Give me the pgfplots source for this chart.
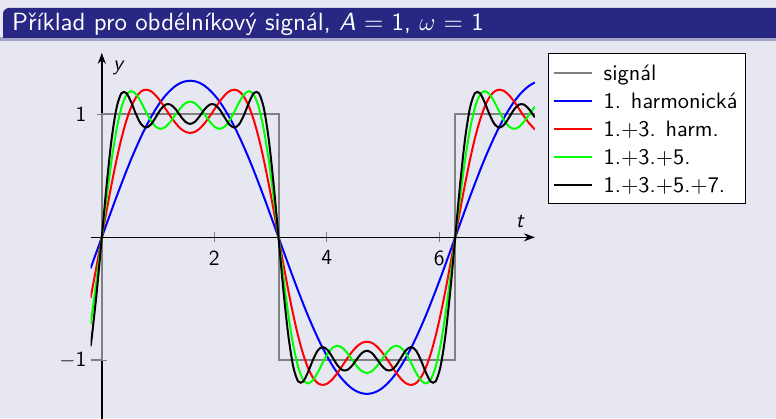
\documentclass[border=0pt]{standalone}
\usepackage{fontspec}
\setsansfont{lmsans10-regular.otf}[ItalicFont=lmsans10-oblique.otf, BoldFont=lmsans10-bold.otf]
\usepackage{pgfplots}
\usepackage{pgfplotstable}
\pgfplotsset{compat=1.18}
\usetikzlibrary{arrows.meta}
\renewcommand*\familydefault{\sfdefault}

\definecolor{canvasbg}{RGB}{231,231,242}
\definecolor{headblue}{RGB}{40,40,132}
\definecolor{sigGray}{RGB}{128,128,128}

\newcommand{\bodyfont}{\fontsize{21.5}{26}\selectfont}
\newcommand{\legendfont}{\fontsize{22.3}{26}\selectfont}

% Partial Fourier sums of the square wave (A = 1, omega = 1)
% columns: t, 1st harmonic, 1+3, 1+3+5, 1+3+5+7
\pgfplotstableread{
t f1 f3 f5 f7
-0.2000 -0.253 -0.493 -0.707 -0.886
-0.1745 -0.221 -0.433 -0.628 -0.799
-0.0873 -0.111 -0.221 -0.328 -0.433
0.0000 0 0 0 0
0.0873 0.111 0.221 0.328 0.433
0.1745 0.221 0.433 0.628 0.799
0.2618 0.330 0.630 0.876 1.051
0.3491 0.435 0.803 1.054 1.171
0.4363 0.538 0.948 1.157 1.173
0.5236 0.637 1.061 1.188 1.097
0.6109 0.730 1.140 1.162 0.998
0.6981 0.818 1.186 1.099 0.920
0.7854 0.900 1.200 1.020 0.892
0.8727 0.975 1.188 0.948 0.917
0.9599 1.043 1.153 0.899 0.976
1.0472 1.103 1.103 0.882 1.040
1.1345 1.154 1.044 0.898 1.079
1.2217 1.196 0.984 0.940 1.079
1.3090 1.230 0.930 0.996 1.043
1.3963 1.254 0.886 1.050 0.988
1.4835 1.268 0.858 1.089 0.940
1.5708 1.273 0.849 1.103 0.922
1.6581 1.268 0.858 1.089 0.940
1.7453 1.254 0.886 1.050 0.988
1.8326 1.230 0.930 0.996 1.043
1.9199 1.196 0.984 0.940 1.079
2.0071 1.154 1.044 0.898 1.079
2.0944 1.103 1.103 0.882 1.040
2.1817 1.043 1.153 0.899 0.976
2.2689 0.975 1.188 0.948 0.917
2.3562 0.900 1.200 1.020 0.892
2.4435 0.818 1.186 1.099 0.920
2.5307 0.730 1.140 1.162 0.998
2.6180 0.637 1.061 1.188 1.097
2.7053 0.538 0.948 1.157 1.173
2.7925 0.435 0.803 1.054 1.171
2.8798 0.330 0.630 0.876 1.051
2.9671 0.221 0.433 0.628 0.799
3.0543 0.111 0.221 0.328 0.433
3.1416 0 0 0 0
3.2289 -0.111 -0.221 -0.328 -0.433
3.3161 -0.221 -0.433 -0.628 -0.799
3.4034 -0.330 -0.630 -0.876 -1.051
3.4907 -0.435 -0.803 -1.054 -1.171
3.5779 -0.538 -0.948 -1.157 -1.173
3.6652 -0.637 -1.061 -1.188 -1.097
3.7525 -0.730 -1.140 -1.162 -0.998
3.8397 -0.818 -1.186 -1.099 -0.920
3.9270 -0.900 -1.200 -1.020 -0.892
4.0143 -0.975 -1.188 -0.948 -0.917
4.1015 -1.043 -1.153 -0.899 -0.976
4.1888 -1.103 -1.103 -0.882 -1.040
4.2761 -1.154 -1.044 -0.898 -1.079
4.3633 -1.196 -0.984 -0.940 -1.079
4.4506 -1.230 -0.930 -0.996 -1.043
4.5379 -1.254 -0.886 -1.050 -0.988
4.6251 -1.268 -0.858 -1.089 -0.940
4.7124 -1.273 -0.849 -1.103 -0.922
4.7997 -1.268 -0.858 -1.089 -0.940
4.8869 -1.254 -0.886 -1.050 -0.988
4.9742 -1.230 -0.930 -0.996 -1.043
5.0615 -1.196 -0.984 -0.940 -1.079
5.1487 -1.154 -1.044 -0.898 -1.079
5.2360 -1.103 -1.103 -0.882 -1.040
5.3233 -1.043 -1.153 -0.899 -0.976
5.4105 -0.975 -1.188 -0.948 -0.917
5.4978 -0.900 -1.200 -1.020 -0.892
5.5851 -0.818 -1.186 -1.099 -0.920
5.6723 -0.730 -1.140 -1.162 -0.998
5.7596 -0.637 -1.061 -1.188 -1.097
5.8469 -0.538 -0.948 -1.157 -1.173
5.9341 -0.435 -0.803 -1.054 -1.171
6.0214 -0.330 -0.630 -0.876 -1.051
6.1087 -0.221 -0.433 -0.628 -0.799
6.1959 -0.111 -0.221 -0.328 -0.433
6.2832 0 0 0 0
6.3705 0.111 0.221 0.328 0.433
6.4577 0.221 0.433 0.628 0.799
6.5450 0.330 0.630 0.876 1.051
6.6323 0.435 0.803 1.054 1.171
6.7195 0.538 0.948 1.157 1.173
6.8068 0.637 1.061 1.188 1.097
6.8941 0.730 1.140 1.162 0.998
6.9813 0.818 1.186 1.099 0.920
7.0686 0.900 1.200 1.020 0.892
7.1558 0.975 1.188 0.948 0.917
7.2431 1.043 1.153 0.899 0.976
7.3304 1.103 1.103 0.882 1.040
7.4176 1.154 1.044 0.898 1.079
7.5049 1.196 0.984 0.940 1.079
7.5922 1.230 0.930 0.996 1.043
7.6794 1.254 0.886 1.050 0.988
7.7000 1.258 0.878 1.061 0.975
}\harmtable

\begin{document}
\begin{tikzpicture}
\useasboundingbox (0,0) rectangle (776pt,418pt);
\clip (0,0) rectangle (776pt,418pt);
% slide canvas
\fill[canvasbg] (0,0) rectangle (776pt,418pt);
% frame title bar
\fill[headblue!35!canvasbg] (0,377pt) rectangle (776pt,381pt);
\fill[headblue] (3pt,380pt) -- (3pt,404pt) arc[start angle=180,end angle=90,radius=6pt]
  -- (776pt,410pt) -- (776pt,380pt) -- cycle;
\node[anchor=base west, inner sep=0pt, text=white, font=\fontsize{24.9}{29}\selectfont]
  at (12pt,387pt) {Příklad pro obdélníkový signál, {\itshape A}~=~1, $\omega$~=~1};

\begin{axis}[
  x=56.25pt, y=123pt,
  at={(90.55pt,-3.8pt)}, anchor=south west,
  axis lines=middle,
  xmin=-0.2, xmax=7.7, ymin=-1.5, ymax=1.5,
  axis line style={line width=1.5pt, -{Stealth[length=11pt,width=8pt]}},
  xtick={2,4,6}, xticklabels={2,4,6},
  ytick={-1,1}, yticklabels={$-$1,1},
  tick align=center, major tick length=10pt,
  tick style={sigGray, line width=1pt},
  tick label style={font=\bodyfont},
  xticklabel style={yshift=-5pt},
  yticklabel style={xshift=-7pt},
  clip=true,
  legend style={at={(1.0294,1)}, anchor=north west, draw=black, fill=white,
    line width=1.5pt, font=\legendfont, row sep=0pt,
    inner xsep=4pt, inner ysep=5pt,
    nodes={inner xsep=4pt, inner ysep=4.5pt, text height=17pt, text depth=2pt}},
  legend cell align=left,
  legend image code/.code={\draw[#1] (0pt,0pt) -- (38pt,0pt); \path (45pt,0pt);},
]
\addplot[sigGray, line width=2pt] coordinates {
  (-0.2,-1) (0,-1) (0,1) (3.1416,1) (3.1416,-1) (6.2832,-1) (6.2832,1) (7.7,1)};
\addlegendentry{signál}
\addplot[blue, line width=2pt, smooth] table[x=t, y=f1] {\harmtable};
\addlegendentry{1. harmonická}
\addplot[red, line width=2pt, smooth] table[x=t, y=f3] {\harmtable};
\addlegendentry{1.+3. harm.}
\addplot[green, line width=2pt, smooth] table[x=t, y=f5] {\harmtable};
\addlegendentry{1.+3.+5.}
\addplot[black, line width=2pt, smooth] table[x=t, y=f7] {\harmtable};
\addlegendentry{1.+3.+5.+7.}
\node[font=\bodyfont\itshape] at (axis cs:7.43,0.13) {t};
\node[font=\bodyfont\itshape] at (axis cs:0.29,1.38) {y};
\end{axis}
\end{tikzpicture}
\end{document}
